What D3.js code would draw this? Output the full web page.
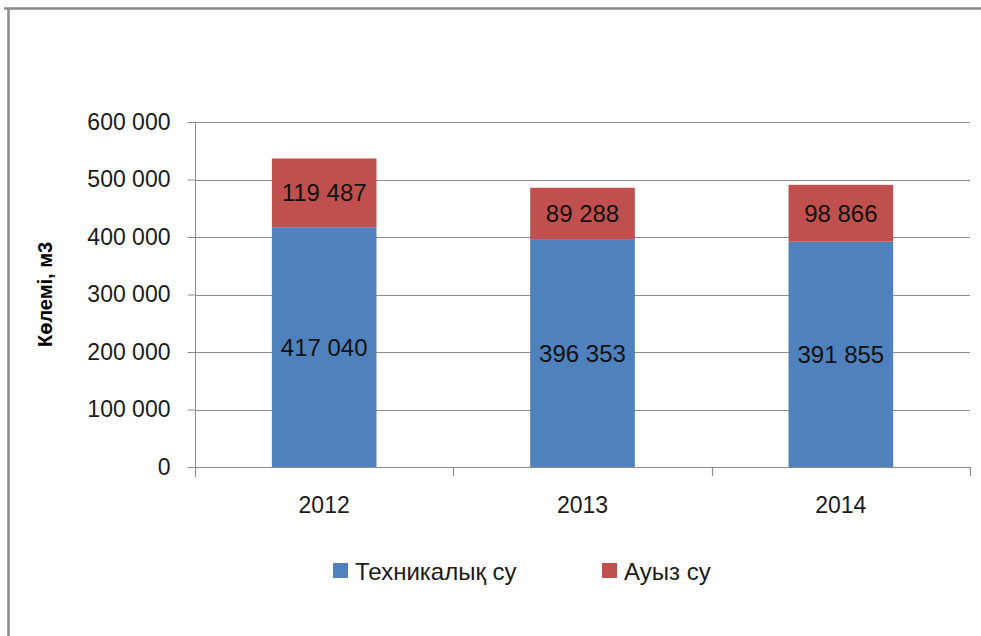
<!DOCTYPE html>
<html lang="kk">
<head>
<meta charset="utf-8">
<title>Көлемі, м3</title>
<script src="https://cdn.jsdelivr.net/npm/d3@7/dist/d3.min.js"></script>
<style>
  body { margin: 0; background: #fff; }
  svg { display: block; font-family: "Liberation Sans", Arial, sans-serif; }
</style>
</head>
<body>
<script>
// data
var years = ["2012", "2013", "2014"];
var technical = [417040, 396353, 391855];   // Техникалық су
var drinking = [119487, 89288, 98866];      // Ауыз су
var seriesNames = ["Техникалық су", "Ауыз су"];
var seriesColors = ["#4F81BD", "#C0504D"];
var yTicks = [0, 100000, 200000, 300000, 400000, 500000, 600000];

var W = 981, H = 636;
var plotLeft = 195, plotRight = 970, plotTop = 122, plotBottom = 467;

var svg = d3.select("body").append("svg")
  .attr("width", W)
  .attr("height", H);

// outer frame (only top and left edges are visible)
svg.append("path")
  .attr("d", "M4,8.5H981M8.5,8.5V636")
  .attr("stroke", "#8a8a8a")
  .attr("stroke-width", 2.5)
  .attr("fill", "none");

var x = d3.scaleBand().domain(years).range([plotLeft, plotRight]).paddingInner(0).paddingOuter(0);
var y = d3.scaleLinear().domain([0, 600000]).range([plotBottom, plotTop]);

var fmt = function(v) { return d3.format(",")(v).replace(/,/g, " "); };

// gridlines
svg.append("g").selectAll("line")
  .data(yTicks.slice(1))
  .enter().append("line")
  .attr("x1", plotLeft).attr("x2", plotRight)
  .attr("y1", function(d) { return Math.round(y(d)) + 0.5; })
  .attr("y2", function(d) { return Math.round(y(d)) + 0.5; })
  .attr("stroke", "#8c8c8c")
  .attr("stroke-width", 1.2);

// y axis
var yAxis = svg.append("g")
  .attr("transform", "translate(" + (plotLeft + 0.5) + ",0)")
  .call(d3.axisLeft(y).tickValues(yTicks).tickSize(8).tickPadding(17).tickFormat(fmt));
yAxis.select(".domain").attr("stroke", "#8c8c8c").attr("d", "M0," + plotTop + "V" + (plotBottom + 10));
yAxis.selectAll(".tick line").attr("stroke", "#8c8c8c");
yAxis.selectAll(".tick text")
  .attr("font-size", 23)
  .attr("font-family", "Liberation Sans, Arial, sans-serif")
  .attr("fill", "#1a1a1a");

// stacked bars
var rows = years.map(function(yr, i) {
  return { year: yr, tech: technical[i], drink: drinking[i] };
});
var stack = d3.stack().keys(["tech", "drink"]);
var layers = stack(rows);

var bw = x.bandwidth() * 0.405;
var g = svg.append("g");
layers.forEach(function(layer, li) {
  g.selectAll(".bar" + li)
    .data(layer)
    .enter().append("rect")
    .attr("x", function(d) { return x(d.data.year) + (x.bandwidth() - bw) / 2; })
    .attr("y", function(d) { return y(d[1]); })
    .attr("width", bw)
    .attr("height", function(d) { return y(d[0]) - y(d[1]); })
    .attr("fill", seriesColors[li]);

  g.selectAll(".lbl" + li)
    .data(layer)
    .enter().append("text")
    .attr("x", function(d) { return x(d.data.year) + x.bandwidth() / 2; })
    .attr("y", function(d) { return (y(d[0]) + y(d[1])) / 2; })
    .attr("dy", "0.36em")
    .attr("text-anchor", "middle")
    .attr("font-size", 24)
    .attr("fill", "#111")
    .text(function(d) { return fmt(d[1] - d[0]); });
});

// x axis
var xAxisG = svg.append("g");
xAxisG.append("line")
  .attr("x1", plotLeft).attr("x2", plotRight)
  .attr("y1", plotBottom + 0.5).attr("y2", plotBottom + 0.5)
  .attr("stroke", "#8c8c8c").attr("stroke-width", 1.2);
xAxisG.selectAll(".sep")
  .data(years.concat(["end"]))
  .enter().append("line")
  .attr("x1", function(d, i) { return Math.round(plotLeft + i * x.step()) + 0.5; })
  .attr("x2", function(d, i) { return Math.round(plotLeft + i * x.step()) + 0.5; })
  .attr("y1", plotBottom).attr("y2", plotBottom + 9)
  .attr("stroke", "#8c8c8c").attr("stroke-width", 1.2);
xAxisG.selectAll(".xl")
  .data(years)
  .enter().append("text")
  .attr("x", function(d) { return x(d) + x.bandwidth() / 2; })
  .attr("y", 513)
  .attr("text-anchor", "middle")
  .attr("font-size", 23)
  .attr("fill", "#1a1a1a")
  .text(function(d) { return d; });

// y axis title
svg.append("text")
  .attr("transform", "translate(52," + ((plotTop + plotBottom) / 2) + ") rotate(-90)")
  .attr("text-anchor", "middle")
  .attr("font-size", 20)
  .attr("font-weight", "bold")
  .attr("fill", "#000")
  .text("Көлемі, м3");

// legend
var legendX = [333, 602];
var lg = svg.append("g");
seriesNames.forEach(function(name, i) {
  lg.append("rect")
    .attr("x", legendX[i]).attr("y", 563)
    .attr("width", 15).attr("height", 15)
    .attr("fill", seriesColors[i]);
  lg.append("text")
    .attr("x", legendX[i] + 22).attr("y", 580)
    .attr("font-size", 24)
    .attr("fill", "#1a1a1a")
    .text(name);
});
</script>
</body>
</html>
